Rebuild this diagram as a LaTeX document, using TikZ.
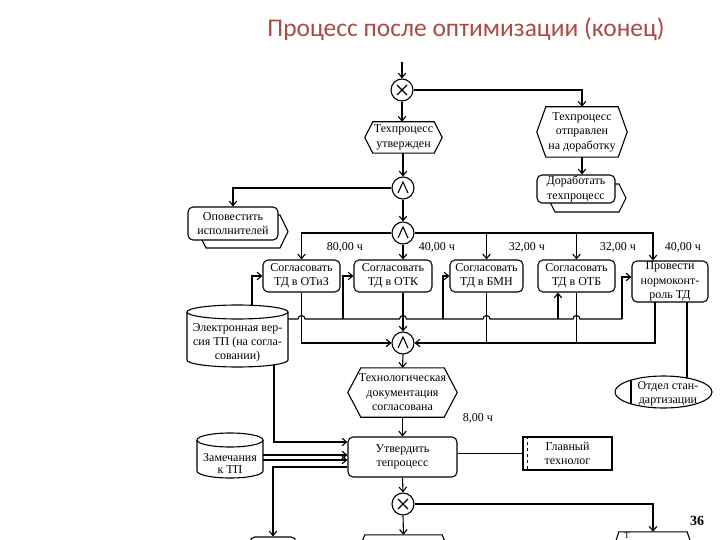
\documentclass[tikz,border=0pt]{standalone}
\usepackage{fontspec}
\setmainfont{Liberation Serif}
\newfontfamily\titlefont{Carlito}
\usetikzlibrary{arrows.meta,shapes.geometric}
\definecolor{titlered}{RGB}{172,74,70}
\newcommand\hexev[2]{\draw[ln] (#1.west) -- ([xshift=#2]#1.north west) -- ([xshift=-#2]#1.north east) -- (#1.east) -- ([xshift=-#2]#1.south east) -- ([xshift=#2]#1.south west) -- cycle;}
\begin{document}
\begin{tikzpicture}[x=1pt,y=-1pt,
 ln/.style={line width=1.1pt},
 arr/.style={ln,-{Straight Barb[length=4.5pt,width=7.5pt]}},
 txt/.style={font=\fontsize{12}{14.5}\selectfont, align=center},
 fn/.style={txt, draw, ln, rounded corners=5pt, fill=white, inner sep=0.5pt},
 ev/.style={txt, inner sep=0pt},
 gate/.style={circle, draw, ln, minimum size=22pt, inner sep=0pt, fill=white}]
\useasboundingbox (0,0) rectangle (720,540);
\clip (0,0) rectangle (720,540);
\fill[white] (0,0) rectangle (720,540);

% title
\node[font=\titlefont\fontsize{25.5}{30}\selectfont, text=titlered] (title) at (466,29) {Процесс после оптимизации (конец)};

% top part
\node[gate] (xor1) at (402,90) {};
\node[ev, minimum width=77pt, minimum height=31pt] (ev1) at (403.5,137.5) {Техпроцесс\\утвержден};
\node[ev, minimum width=90pt, minimum height=50pt] (ev2) at (582,132) {Техпроцесс\\отправлен\\на доработку};
\draw[ln, fill=white] (548,198) -- (555,184) -- (619,184) -- (626,198) -- (619,212) -- (555,212) -- cycle;
\node[fn, minimum width=78pt, minimum height=28pt] (dor) at (576,189) {Доработать\\техпроцесс};
\node[gate] (and1) at (403,188) {};
\draw[ln, fill=white] (198,231.5) -- (206,215) -- (280,215) -- (288,231.5) -- (280,248) -- (206,248) -- cycle;
\node[fn, minimum width=90pt, minimum height=33pt] (opov) at (233,223.5) {Оповестить\\исполнителей};
\node[gate] (and2) at (403,233) {};

% functions row
\node[fn, minimum width=77pt, minimum height=32pt] (f1) at (301.5,276) {Согласовать\\ТД в ОТиЗ};
\node[fn, minimum width=78pt, minimum height=32pt] (f2) at (393,276) {Согласовать\\ТД в ОТК};
\node[fn, minimum width=73pt, minimum height=32pt] (f3) at (486.5,276) {Согласовать\\ТД в БМН};
\node[fn, minimum width=77pt, minimum height=32pt] (f4) at (576.5,276) {Согласовать\\ТД в ОТБ};
\node[fn, minimum width=76pt, minimum height=41pt] (f5) at (670,281.5) {Провести\\нормоконт-\\роль ТД};

\node[txt] (h1) at (345,247.5) {80,00 ч};
\node[txt] (h2) at (437,247.5) {40,00 ч};
\node[txt] (h3) at (527,247.5) {32,00 ч};
\node[txt] (h4) at (618,247.5) {32,00 ч};
\node[txt] (h5) at (683,247.5) {40,00 ч};

% data store 1
\draw[ln, fill=white] (187,312) -- (187,360) arc[start angle=180, end angle=0, x radius=50.5, y radius=7] -- (288,312);
\draw[ln] (237.5,312) ellipse[x radius=50.5, y radius=7];
\node[txt, font=\fontsize{12}{14}\selectfont] (cyl1) at (237.5,343) {Электронная вер-\\сия ТП (на согла-\\совании)};

\node[gate] (and3) at (403,343) {};
\node[ev, minimum width=109pt, minimum height=49pt] (ev3) at (402.5,392.5) {Технологическая\\документация\\согласована};
\node[txt] (h6) at (478,418) {8,00 ч};

% org unit
\node[ellipse, draw, ln, minimum width=97pt, minimum height=32pt, inner sep=0pt] (org) at (663.5,392) {};
\draw[ln] (631,380.1) -- (631,403.9);
\node[txt, font=\fontsize{12}{13.5}\selectfont] (orgt) at (668,394) {Отдел стан-\\дартизации};

\node[fn, minimum width=109pt, minimum height=40pt] (utv) at (402.5,457) {Утвердить\\тепроцесс};

% data store 2
\draw[ln, fill=white] (197,440) -- (197,471) arc[start angle=180, end angle=0, x radius=33, y radius=7] -- (263,440);
\draw[ln] (230,440) ellipse[x radius=33, y radius=7];
\node[txt, font=\fontsize{12}{12.5}\selectfont] (cyl2) at (230,463.5) {Замечания\\к ТП};

% position
\node[txt, draw, ln, minimum width=89pt, minimum height=33pt, inner sep=0pt] (pos) at (567.5,453.5) {Главный\\технолог};
\draw[ln, dashed] ([xshift=5pt]pos.north west) -- ([xshift=5pt]pos.south west);

\node[gate] (xor2) at (403,504) {};

% bottom (cut) shapes
\node[draw, ln, rounded corners=5pt, minimum width=46pt, minimum height=33pt] (bl) at (273,553.5) {};
\node[ev, minimum width=97pt, minimum height=50pt] (bm) at (403.5,560) {};
\node[ev, minimum width=84pt, minimum height=50pt] (br) at (653,557) {};
\node[font=\fontsize{9}{10}\selectfont, anchor=base west, inner sep=0pt] (brt) at (624,538.8) {Т};
\node[font=\bfseries\fontsize{14}{16}\selectfont] (pg) at (697,521) {36};

% hexagon outlines
\hexev{ev1}{8pt}
\hexev{ev2}{9pt}
\hexev{ev3}{13pt}
\hexev{bm}{10pt}
\hexev{br}{8pt}

% gate symbols
\foreach \g in {xor1,xor2} \draw[ln] ([shift={(-5pt,-5pt)}]\g.center) -- ([shift={(5pt,5pt)}]\g.center) ([shift={(-5pt,5pt)}]\g.center) -- ([shift={(5pt,-5pt)}]\g.center);
\foreach \g in {and1,and2,and3} \draw[ln] ([shift={(-5pt,-5pt)}]\g.center) -- ([shift={(0pt,6pt)}]\g.center) -- ([shift={(5pt,-5pt)}]\g.center);

% coordinates
\coordinate (top) at (402,62);
\coordinate (c1t) at (252,305.3);
\coordinate (cA) at (288,319);
\coordinate (jA2) at (343,319);
\coordinate (jA3) at (443,319);
\coordinate (jA4) at (558,319);
\coordinate (jA5) at (622,319);
\coordinate (f5o) at (655,302);
\coordinate (f5p) at (687,302);
\coordinate (orgtop) at (687,378);
\coordinate (c1b) at (274,364.8);
\coordinate (c2a) at (263,455);
\coordinate (c2b) at (263,460);

% connectors top
\draw[arr] (top) -- (xor1.north);
\draw[arr] (xor1.south) -- (xor1.south |- ev1.north);
\draw[arr] (xor1.east) -| (ev2.north);
\draw[arr] (ev2.south) -- (ev2.south |- dor.north);
\draw[arr] (and1.north |- ev1.south) -- (and1.north);
\draw[arr] (and1.west) -| (opov.north);
\draw[arr] (and1.south) -- (and2.north);
\draw[arr] (and2.west) -| (f1.north);
\draw[arr] (and2.east) -| ([xshift=-17pt]f5.north);
\draw[arr] (and2.south) -- (and2.south |- f2.north);
\draw[arr] (f3.north |- and2.east) -- (f3.north);
\draw[arr] (f4.north |- and2.east) -- (f4.north);

% line A with hops
\draw[ln] (cA) -- (298,319) arc[start angle=180, end angle=360, radius=3.5]
  -- (399.5,319) arc[start angle=180, end angle=360, radius=3.5]
  -- (483,319) arc[start angle=180, end angle=360, radius=3.5]
  -- (573,319) arc[start angle=180, end angle=360, radius=3.5]
  -- (jA5);
\draw[arr] (c1t) |- (f1.west);
\draw[arr] (jA2) |- (f2.west);
\draw[arr] (jA3) |- (f3.west);
\draw[arr] (jA4) -- (jA4 |- f4.south);
\draw[arr] (jA5) |- ([yshift=4.5pt]f5.west);

% line B
\draw[arr] (f1.south) |- (and3.west);
\draw[arr] (f5o) |- (and3.east);
\draw[ln] (f3.south) -- (f3.south |- and3.east);
\draw[ln] (f4.south) -- (f4.south |- and3.east);
\draw[arr] (and3.north |- f2.south) -- (and3.north);
\draw[ln] (f5p) -- (orgtop);

% lower connectors
\draw[arr] (and3.south) -- (ev3.north);
\draw[arr] (ev3.south) -- (utv.north);
\draw[arr] (c1b) |- ([yshift=15pt]utv.west);
\draw[arr] (c2a) -- (c2a -| utv.west);
\draw[arr] (c2b) -- (c2b -| utv.west);
\draw[arr] ([yshift=-10pt]utv.west) -| (bl.north);
\draw[ln] (pos.west -| utv.east) -- (pos.west);
\draw[arr] (utv.south) -- (xor2.north);
\draw[arr] (xor2.south) -- (bm.north);
\draw[arr] (xor2.east) -| (br.north);
\end{tikzpicture}
\end{document}
